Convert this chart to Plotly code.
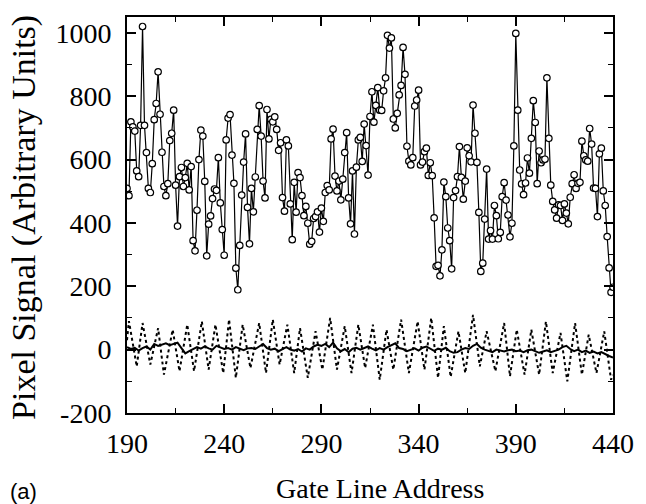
import plotly.graph_objects as go

# Gate line addresses
gate_start = 190
gate_end = 440
gate_lines = list(range(gate_start, gate_end + 1))

# Pixel signal (open circles), one value per gate line 190..440
pixel_signal = [
    509, 486, 719, 703, 690, 564, 546, 708, 1020, 708,
    622, 509, 496, 587, 726, 777, 877, 743, 623, 515,
    486, 524, 660, 683, 756, 519, 390, 546, 575, 515,
    543, 588, 504, 578, 344, 312, 440, 600, 693, 674,
    531, 296, 396, 422, 477, 507, 503, 606, 463, 379,
    298, 662, 731, 742,
    614, 525, 257, 189, 329, 488, 592, 681, 449, 334,
    509, 435, 545, 695, 770, 674, 532, 479, 758, 665,
    727, 719, 735, 695, 629, 653, 480, 437, 662, 643,
    460, 347, 528, 434, 559, 543, 486, 423, 452, 399,
    333, 342, 414, 420, 435, 371, 447, 405, 496, 518,
    504, 665, 696, 548, 501, 532, 473, 538, 622, 685,
    479, 397, 564,
    365,
    576, 662, 670, 594, 712, 644, 551, 736, 814, 718,
    771, 827, 756, 755, 817, 858, 992, 952, 984, 728,
    700, 746, 804, 834, 954, 869, 642, 595, 583, 606,
    769, 788, 819, 583, 592, 625, 636, 550, 590, 549,
    416, 263, 266, 233, 315, 529, 483, 384, 344, 255,
    480, 502, 546, 641, 544, 475, 532, 637, 612, 593,
    772, 683,
    591, 433, 247, 273, 412, 570, 349, 376, 349, 455,
    423, 350, 370, 483, 527, 472, 425, 356, 399, 643,
    998, 756, 567, 523, 489, 526, 605, 557, 667, 786,
    717, 524, 627, 590, 599, 601, 858, 667, 519, 468,
    441, 415, 457, 455, 408, 460, 431, 397, 481, 524,
    552, 509, 525, 528, 658, 612, 599, 595, 698, 649,
    510, 509, 420, 618, 636, 501, 455, 357, 258, 181,
    197,
]

# Dotted oscillating signal (read at its turning points)
dotted_x = [
    190, 191, 195, 198, 202, 206, 209, 213.5, 217, 221,
    224.5, 228.5, 232, 235.5, 239.5, 242.5, 246, 249.5, 253.5, 258,
    261.5, 265, 268.5, 272.5, 276, 279, 283, 287, 290.5, 294.5,
    298, 302, 305.5, 309, 312.5, 316.5, 320, 323.5, 327, 331,
    335, 339.5, 343, 346.5, 350, 353, 356.5, 360.5, 364, 368,
    371.5, 375, 379.5, 384, 387, 390.5, 394.5, 398, 402, 405.5,
    409, 413, 416.5, 420.5, 424, 427.5, 431.5, 435.5, 439, 440,
]
dotted_y = [
    30, 90, -53, 84, -47, 68, -79, 63, -68, 79,
    -68, 89, -63, 79, -74, 95, -89, 79, -58, 84,
    -74, 95, -47, 79, -74, 68, -89, 58, -63, 100,
    -63, 74, -74, 79, -58, 79, -95, 63, -63, 95,
    -74, 89, -63, 100, -89, 74, -86, 58, -74, 110,
    -53, 58, -68, 84, -84, 63, -79, 63, -79, 89,
    -74, 53, -100, 84, -79, 47, -74, 58, -95, -80,
]

# Solid residual signal, every second gate line 190..440
solid_x = list(range(gate_start, gate_end + 1, 2))
solid_y = [
    8, 2, 6, -3, 5, 10, 0, 18, 12, 15,
    20, 14, 18, 22, 5, -12, -5, 2, 8, 3,
    10, 4, 0, 12, 6, 2, 5, 0, 8, 3,
    -2, 4, 5,
    2, 10, 18, 5, 0, 3, -5, 2, 8, 0,
    -3, 2, -6, 4, 0, 10, 15, 12, 18, 8,
    22, 4, -5, 2, -8, 3, 6, 0, 5, 10,
    3,
    -2, 5, 0, 8, 15, 20, 5, 2, -5, 0,
    4, -3, 6, 10, 2, -4, 3, 0, 6, -5,
    -10, -8, 0, 5, 2, 12, 18, 6, 0, -5,
    -8,
    0, -3, -6, -2, 0, -5, -3, -8, -2, 0,
    -4, -10, -6, -2, -8, -5, 0, 8, 12, 2,
    -5, 0, -8, -3, -10, -6, -12, -8, -15, -20,
    -25,
]

x_ticks = [190, 240, 290, 340, 390, 440]
y_ticks = [-200, 0, 200, 400, 600, 800, 1000]
y_tick_text = ["-200", "0", "200", "400", "600", "800", "1000"]

serif = "Liberation Serif, Times New Roman, serif"

fig = go.Figure()
fig.add_trace(go.Scatter(
    x=dotted_x, y=dotted_y, mode="lines",
    line=dict(color="black", width=2, dash="dot"),
    showlegend=False, hoverinfo="skip"))
fig.add_trace(go.Scatter(
    x=solid_x, y=solid_y, mode="lines",
    line=dict(color="black", width=2),
    showlegend=False, hoverinfo="skip"))
fig.add_trace(go.Scatter(
    x=gate_lines, y=pixel_signal, mode="lines+markers",
    line=dict(color="black", width=1.2),
    marker=dict(symbol="circle", size=6.5, color="white",
                line=dict(color="black", width=1.2)),
    showlegend=False))

axis_common = dict(
    showline=True, linecolor="black", linewidth=2, mirror="ticks",
    ticks="inside", ticklen=9, tickwidth=1.5, tickcolor="black",
    showgrid=False, zeroline=False,
    tickfont=dict(family=serif, size=28, color="black"),
)

fig.update_xaxes(range=[gate_start, gate_end], tickvals=x_ticks,
                 minor=dict(dtick=25, tick0=190, ticks="inside", ticklen=5,
                            tickwidth=1.2, tickcolor="black"),
                 ticklabelstandoff=4, **axis_common)
fig.update_yaxes(range=[-200, 1050], tickvals=y_ticks, ticktext=y_tick_text,
                 minor=dict(dtick=100, tick0=-200, ticks="inside", ticklen=5,
                            tickwidth=1.2, tickcolor="black"),
                 ticklabelstandoff=8, **axis_common)

fig.update_layout(
    width=646, height=504,
    margin=dict(l=127, r=22, t=17, b=91),
    paper_bgcolor="white", plot_bgcolor="white",
    annotations=[
        dict(text="Pixel Signal (Arbitrary Units)", xref="paper", yref="paper",
             x=-0.212, y=0.495, xanchor="center", yanchor="middle",
             textangle=-90, showarrow=False,
             font=dict(family=serif, size=34, color="black")),
        dict(text="Gate Line Address", xref="paper", yref="paper",
             x=0.52, y=-0.19, xanchor="center", yanchor="middle",
             showarrow=False, font=dict(family=serif, size=28, color="black")),
        dict(text="(a)", xref="paper", yref="paper",
             x=-0.213, y=-0.197, xanchor="center", yanchor="middle",
             showarrow=False,
             font=dict(family="Liberation Sans, Arial, sans-serif", size=22,
                       color="black")),
    ],
)

fig.write_html("out.html", config={"displayModeBar": False},
               post_script="document.body.style.margin='0';")
